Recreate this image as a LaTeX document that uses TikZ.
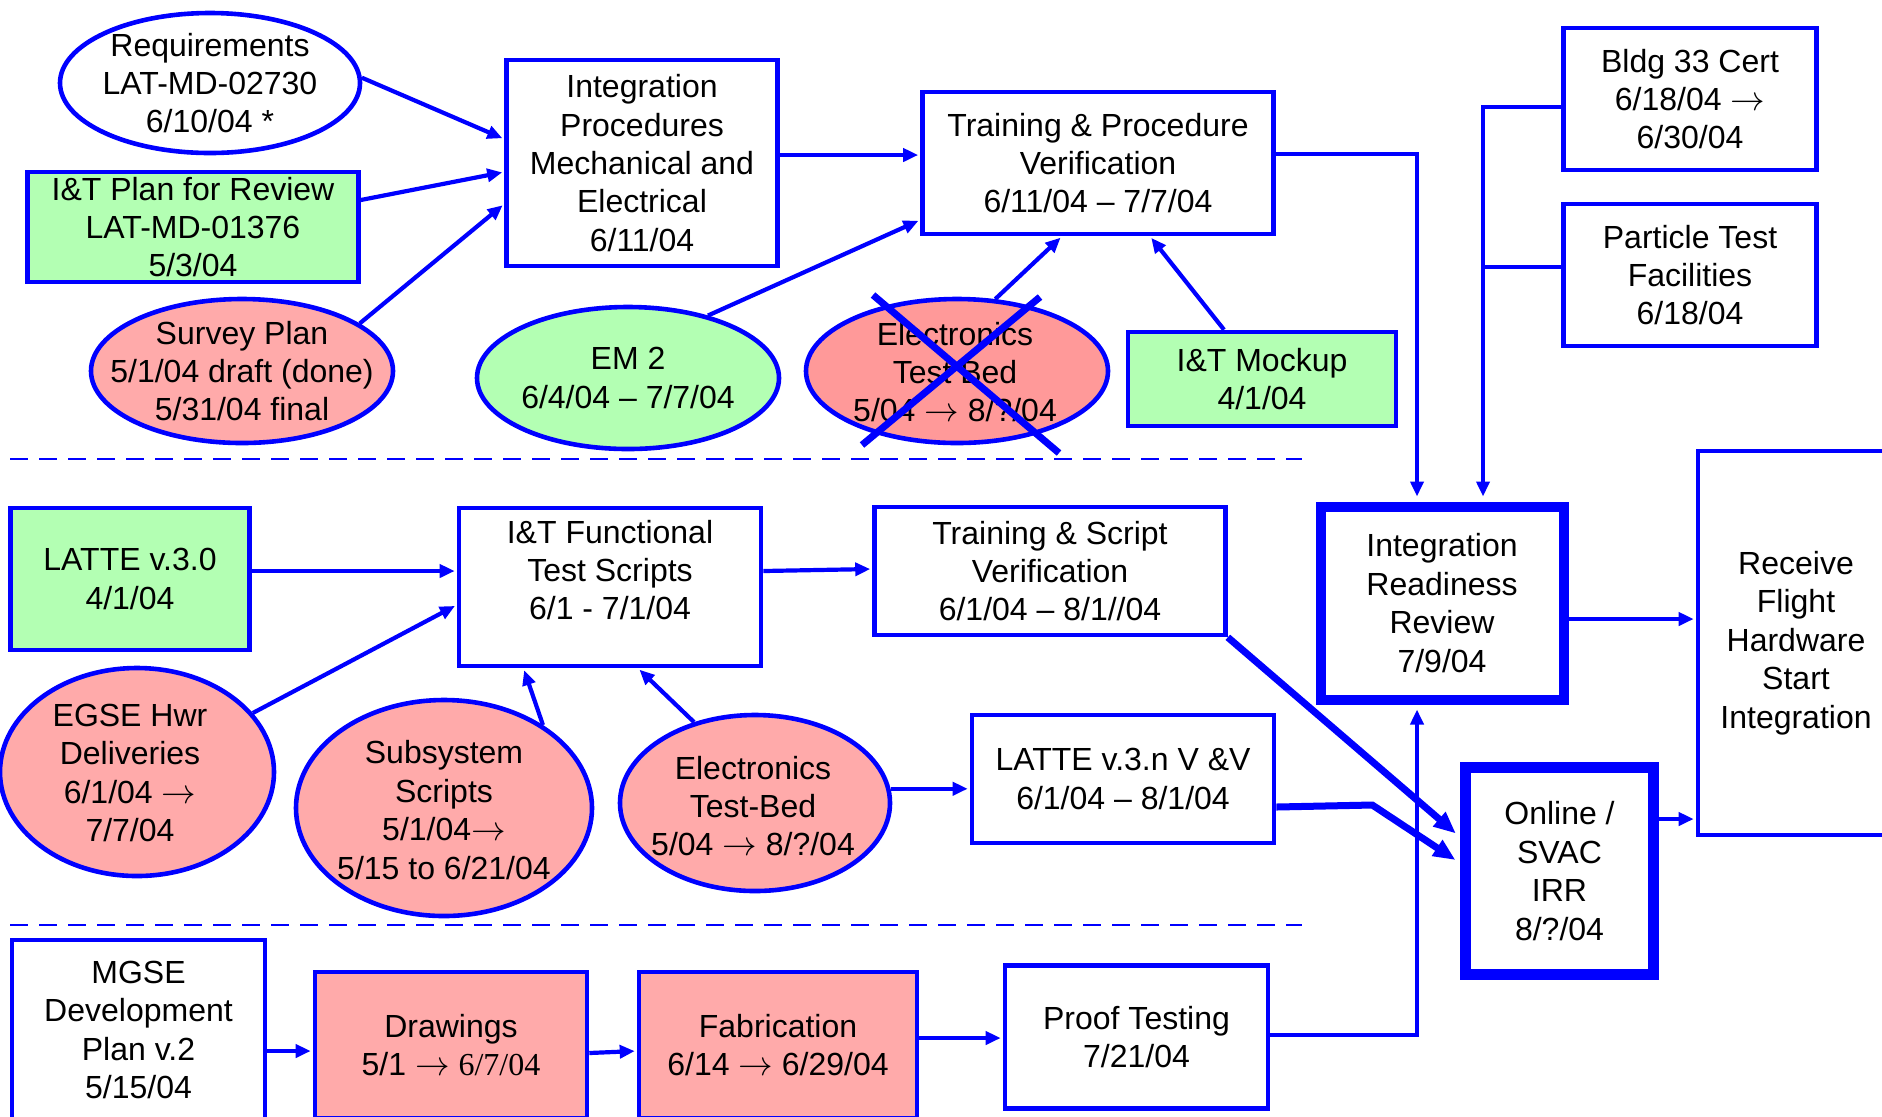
\documentclass[tikz,border=0pt]{standalone}
\usepackage{fontspec}
\setmainfont{Liberation Sans}
\newfontfamily\tnr{Liberation Serif}
\usetikzlibrary{arrows.meta,calc,shapes.geometric}
\definecolor{bl}{HTML}{0000FF}
\definecolor{gfill}{HTML}{B3FFB3}
\definecolor{pfill}{HTML}{FFAAAA}
\definecolor{rfill}{HTML}{FF9999}
\newcommand{\myarr}{$\rightarrow$}
\begin{document}
\begin{tikzpicture}[x=0.5pt,y=-0.5pt,
  every node/.style={font=\fontsize{16}{19.2}\selectfont, align=center},
  box/.style={draw=bl, line width=2.3pt, rectangle, inner sep=0pt, fill=white},
  ell/.style={draw=bl, line width=2.3pt, ellipse, inner sep=0pt},
  txt/.style={inner sep=0pt},
  conn/.style={draw=bl, line width=2.1pt, -{Triangle[length=7.5pt,width=6.5pt]}, shorten >=1pt},
  thickconn/.style={draw=bl, line width=3.5pt, -{Triangle[length=11pt,width=9pt]}, shorten >=2.75pt},
  seg/.style={draw=bl, line width=2.1pt},
  dashline/.style={draw=bl, line width=1.3pt, dash pattern=on 9pt off 5.5pt},
  crossline/.style={draw=bl, line width=3.5pt}
]
\useasboundingbox (0,0) rectangle (1882,1116);
\clip (0,0) rectangle (1882,1116);

% --- top row ---
\node[ell, fill=white, minimum width=150pt, minimum height=70pt] (req) at (210,83) {};
\node[txt] (reqt) at (req) {Requirements\\LAT-MD-02730\\6/10/04 *};

\node[box, fill=gfill, minimum width=165.5pt, minimum height=55pt] (plan) at (193,227) {I\&T Plan for Review\\LAT-MD-01376\\5/3/04};

\node[ell, fill=pfill, minimum width=151pt, minimum height=72pt] (survey) at (242,371) {};
\node[txt] (surveyt) at (survey) {Survey Plan\\5/1/04 draft (done)\\5/31/04 final};

\node[box, minimum width=135.5pt, minimum height=103pt] (ip) at (642,163) {Integration\\Procedures\\Mechanical and\\Electrical\\6/11/04};

\node[box, minimum width=175.5pt, minimum height=71pt] (tpv) at (1098,163) {Training \& Procedure\\Verification\\6/11/04 – 7/7/04};

\node[ell, fill=gfill, minimum width=151pt, minimum height=71pt] (em2) at (628,378) {};
\node[txt] (em2t) at (em2) {EM 2\\6/4/04 – 7/7/04};

\node[ell, fill=rfill, minimum width=151pt, minimum height=72pt] (etbx) at (957,371) {};
\node[txt] (etbxt) at (955,372) {Electronics\\Test Bed\\5/04 \myarr{} 8/?/04};
\draw[crossline] (873,295) -- (1059,453);
\draw[crossline] (1040,297) -- (862,445);

\node[box, fill=gfill, minimum width=134pt, minimum height=47pt] (mock) at (1262,379) {I\&T Mockup\\4/1/04};
\node[box, minimum width=126.5pt, minimum height=71pt] (bldg) at (1690,99) {Bldg 33 Cert\\6/18/04 \myarr\\6/30/04};
\node[box, minimum width=126.5pt, minimum height=71pt] (part) at (1690,275) {Particle Test\\Facilities\\6/18/04};

% --- middle row ---
\node[box, fill=gfill, minimum width=119.5pt, minimum height=71pt] (l30) at (130,579) {LATTE v.3.0\\4/1/04};
\node[box, minimum width=151pt, minimum height=79pt] (itf) at (610,587) {};
\node[txt] (itft) at (610,570) {I\&T Functional\\Test Scripts\\6/1 - 7/1/04};
\node[box, minimum width=175.5pt, minimum height=64pt] (tsv) at (1050,571) {Training \& Script\\Verification\\6/1/04 – 8/1//04};
\node[box, line width=5pt, minimum width=121.5pt, minimum height=96.5pt] (irr) at (1442,603) {Integration\\Readiness\\Review\\7/9/04};
\node[box, minimum width=98pt, minimum height=192pt] (recv) at (1796,643) {Receive\\Flight\\Hardware\\Start\\Integration};

\node[ell, fill=pfill, minimum width=137pt, minimum height=104pt] (egse) at (137,772) {};
\node[txt] (egset) at (130,773) {EGSE Hwr\\Deliveries\\6/1/04 \myarr\\7/7/04};
\node[ell, fill=pfill, minimum width=148pt, minimum height=108pt] (subs) at (444,808) {};
\node[txt] (subst) at (444,810) {Subsystem\\Scripts\\5/1/04\myarr\\5/15 to 6/21/04};
\node[ell, fill=pfill, minimum width=135pt, minimum height=88pt] (etb) at (755,803) {};
\node[txt] (etbt) at (753,806) {Electronics\\Test-Bed\\5/04 \myarr{} 8/?/04};
\node[box, minimum width=151pt, minimum height=64pt] (l3n) at (1123,779) {LATTE v.3.n V \&V\\6/1/04 – 8/1/04};
\node[box, line width=5.5pt, minimum width=94pt, minimum height=103.5pt] (onl) at (1559.5,871) {Online /\\SVAC\\IRR\\8/?/04};

% --- bottom row ---
\node[box, minimum width=126.5pt, minimum height=90pt] (mgse) at (138.5,1030) {MGSE\\Development\\Plan v.2\\5/15/04};
\node[box, fill=pfill, minimum width=136pt, minimum height=73pt] (drw) at (451,1045) {Drawings\\5/1 \myarr{} {\tnr 6/7/04}};
\node[box, fill=pfill, minimum width=139pt, minimum height=73pt] (fab) at (778,1045) {Fabrication\\6/14 \myarr{} 6/29/04};
\node[box, minimum width=131.5pt, minimum height=71.5pt] (proof) at (1136.5,1037) {Proof Testing\\7/21/04};

% --- dashed separators ---
\draw[dashline] (10,459) -- (1302,459);
\draw[dashline] (10,925) -- (1302,925);

% --- connectors ---
\draw[conn] (req.2) -- ([yshift=12pt]ip.west);
\draw[conn] ([yshift=13.5pt]plan.east) -- ([yshift=-4.5pt]ip.west);
\draw[conn] (survey.22) -- ([yshift=-20.5pt]ip.west);
\draw[conn] ([yshift=4pt]ip.east) -- ([yshift=4pt]tpv.west);
\draw[conn] (em2.38) -- ([yshift=-28.5pt]tpv.west);
\draw[conn] (etbx.62) -- ([xshift=-18pt]tpv.south);
\draw[conn] ([xshift=-19pt]mock.north) -- ([xshift=26pt]tpv.south);
\draw[conn, shorten >=2.5pt] ([yshift=4.5pt]tpv.east) -| ([xshift=-12.5pt]irr.north);
\draw[conn, shorten >=2.5pt] ([yshift=-4pt]bldg.west) -| ([xshift=20.5pt]irr.north);
\draw[seg] ([yshift=4pt]part.west) -- ++(-80.5,0);

\draw[conn] ([yshift=4pt]l30.east) -- ([yshift=8pt]itf.west);
\draw[conn] (egse.27) -- ([yshift=-9pt]itf.west);
\draw[conn] (subs.40) -- ([xshift=-43.25pt]itf.south);
\draw[conn] (etb.127) -- ([xshift=14pt]itf.south);
\draw[conn] ([yshift=8pt]itf.east) -- ([yshift=1pt]tsv.west);
\draw[thickconn] (tsv.south east) -- ([yshift=17pt]onl.west);
\draw[conn] (etb.6) -- (etb.6 -| l3n.west);
\draw[thickconn] ([yshift=-14pt]l3n.east) -- ++(96,-2) -- ([yshift=4pt]onl.west);
\draw[conn] ([yshift=-8pt]irr.east) -- ([yshift=12pt]recv.west);
\draw[conn] ([yshift=26pt]onl.east) -- ([yshift=-88pt]recv.west);

\draw[conn] ([yshift=-10.5pt]mgse.east) -- ([yshift=-3pt]drw.west);
\draw[conn] ([yshift=-4pt]drw.east) -- ([yshift=-3pt]fab.west);
\draw[conn] ([yshift=3.5pt]fab.east) -- ([yshift=-0.5pt]proof.west);
\draw[conn, shorten >=2.5pt] ([yshift=1pt]proof.east) -| ([xshift=-12.5pt]irr.south);
\end{tikzpicture}
\end{document}
